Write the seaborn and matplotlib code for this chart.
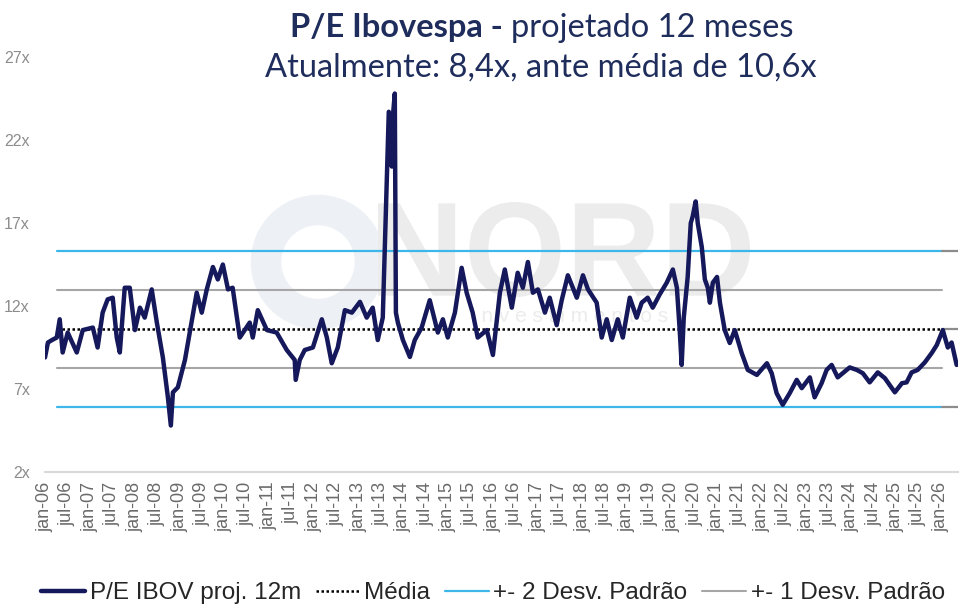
import numpy as np
import pandas as pd
import matplotlib
matplotlib.use("Agg")
import matplotlib.pyplot as plt
from matplotlib.patches import Circle, PathPatch
from matplotlib.textpath import TextPath
from matplotlib.font_manager import FontProperties
from matplotlib.transforms import Affine2D
import seaborn as sns

# ---------------- data ----------------
dates = [
    "2006-01-01", "2006-01-25", "2006-02-27", "2006-04-07", "2006-05-01", "2006-05-25",
    "2006-07-05", "2006-09-17", "2006-11-05", "2007-01-26", "2007-03-06", "2007-04-16",
    "2007-05-27", "2007-07-07", "2007-08-09", "2007-09-03", "2007-10-13", "2007-11-23",
    "2008-01-04", "2008-02-14", "2008-03-24", "2008-05-20", "2008-07-01", "2008-08-19",
    "2008-09-29", "2008-10-23", "2008-11-09", "2008-12-19", "2009-02-15", "2009-03-26",
    "2009-05-22", "2009-07-02", "2009-08-12", "2009-10-01", "2009-11-10", "2009-12-21",
    "2010-02-01", "2010-03-11", "2010-05-08", "2010-07-28", "2010-08-22", "2010-10-02",
    "2010-12-15", "2011-03-05", "2011-05-26", "2011-07-30", "2011-08-07", "2011-09-09",
    "2011-10-20", "2011-12-25", "2012-03-07", "2012-04-17", "2012-05-27", "2012-07-15",
    "2012-09-11", "2012-11-07", "2013-01-12", "2013-03-08", "2013-04-26", "2013-06-06",
    "2013-07-17", "2013-08-19", "2013-09-04", "2013-09-29", "2013-10-07", "2013-10-23",
    "2013-11-01", "2013-11-17", "2013-12-28", "2014-02-23", "2014-04-04", "2014-05-30",
    "2014-08-04", "2014-10-09", "2014-11-19", "2014-12-29", "2015-02-25", "2015-04-21",
    "2015-06-01", "2015-07-20", "2015-08-30", "2015-11-12", "2016-01-01", "2016-02-27",
    "2016-04-07", "2016-06-03", "2016-07-21", "2016-09-01", "2016-10-12", "2016-11-22",
    "2017-01-02", "2017-02-28", "2017-04-08", "2017-06-04", "2017-07-15", "2017-09-03",
    "2017-11-15", "2018-01-04", "2018-02-14", "2018-04-26", "2018-06-06", "2018-07-17",
    "2018-08-27", "2018-10-15", "2018-11-25", "2019-01-21", "2019-03-18", "2019-04-28",
    "2019-06-16", "2019-07-27", "2019-09-22", "2019-11-18", "2020-01-07", "2020-02-09",
    "2020-03-03", "2020-03-19", "2020-04-05", "2020-05-07", "2020-06-01", "2020-06-17",
    "2020-07-11", "2020-07-28", "2020-08-30", "2020-09-24", "2020-10-18", "2020-11-04",
    "2020-11-28", "2021-01-01", "2021-01-25", "2021-03-05", "2021-04-15", "2021-05-26",
    "2021-07-21", "2021-09-09", "2021-11-22", "2022-02-12", "2022-03-23", "2022-05-02",
    "2022-06-21", "2022-08-17", "2022-10-13", "2022-11-23", "2023-01-28", "2023-03-08",
    "2023-05-04", "2023-06-14", "2023-07-25", "2023-09-12", "2023-10-23", "2023-12-19",
    "2024-02-15", "2024-04-04", "2024-05-30", "2024-08-04", "2024-10-01", "2024-12-21",
    "2025-02-17", "2025-03-27", "2025-05-07", "2025-06-25", "2025-08-22", "2025-10-18",
    "2025-11-28", "2026-01-16", "2026-02-26", "2026-03-29", "2026-05-09",
]
pe_values = [
    8.9, 9.8, 9.95, 10.1, 11.2, 9.2,
    10.4, 9.2, 10.55, 10.7, 9.5, 11.6,
    12.4, 12.5, 10.1, 9.2, 13.1, 13.1,
    10.55, 11.9, 11.3, 13.0, 11.0, 8.9,
    6.5, 4.8, 6.8, 7.1, 8.75, 10.4,
    12.8, 11.6, 13.0, 14.35, 13.6, 14.5,
    13.0, 13.1, 10.1, 11.0, 10.1, 11.75,
    10.55, 10.4, 9.35, 8.75, 7.55, 8.75,
    9.35, 9.5, 11.2, 10.1, 8.55, 9.5,
    11.75, 11.6, 12.25, 11.3, 11.9, 9.95,
    11.3, 19.8, 23.7, 20.4, 23.4, 24.8,
    11.6, 11.0, 9.95, 8.93, 9.95, 10.7,
    12.35, 10.4, 11.2, 10.1, 11.6, 14.3,
    12.8, 11.6, 10.1, 10.55, 9.05, 12.8,
    14.2, 11.9, 14.0, 13.1, 14.65, 12.8,
    13.0, 11.6, 12.5, 10.85, 12.35, 13.85,
    12.5, 13.85, 13.0, 12.2, 10.1, 11.2,
    9.95, 11.2, 10.1, 12.5, 11.3, 12.2,
    12.5, 11.9, 12.7, 13.4, 14.2, 13.1,
    10.55, 8.45, 11.3, 13.75, 17.0, 17.4,
    18.3, 17.0, 15.55, 13.6, 13.1, 12.2,
    13.4, 13.75, 12.2, 10.55, 9.77, 10.55,
    9.17, 8.15, 7.85, 8.55, 7.95, 6.75,
    6.05, 6.75, 7.55, 7.05, 7.7, 6.5,
    7.35, 8.15, 8.45, 7.7, 7.95, 8.3,
    8.15, 7.95, 7.4, 8.0, 7.65, 6.8,
    7.35, 7.4, 8.0, 8.15, 8.6, 9.17,
    9.65, 10.55, 9.5, 9.8, 8.45,
]

mean_value = 10.6
std_value = 2.35
band_start = "2006-04-07"
band_end = "2026-01-10"
axis_end = "2026-05-20"

tick_months = ["jan", "jul"]
tick_years = list(range(2006, 2027))

series_label = "P/E IBOV proj. 12m"
mean_label = "Média"
sd2_label = "+- 2 Desv. Padrão"
sd1_label = "+- 1 Desv. Padrão"

title_bold = "P/E Ibovespa - "
title_rest = "projetado 12 meses"
subtitle = "Atualmente: 8,4x, ante média de 10,6x"

# ---------------- style ----------------
sns.set_theme(style="white")
plt.rcParams["font.family"] = ["Liberation Sans", "DejaVu Sans"]

NAVY = "#15185a"
BLUE = "#3db7ea"
GREY = "#a6a6a6"
TITLE_C = "#1f2d5c"

df = pd.DataFrame({"date": pd.to_datetime(dates), "pe": pe_values})

fig = plt.figure(figsize=(9.65, 6.07), dpi=100)
ax = fig.add_axes([45 / 965, 1 - 472 / 607, (958 - 45) / 965, (472 - 57) / 607])

# watermark logo (drawn as graphic)
wm_ax = fig.add_axes([0, 0, 1, 1], zorder=-1)
wm_ax.set_axis_off()
wm_ax.set_xlim(0, 965)
wm_ax.set_ylim(607, 0)
wm_ax.add_patch(Circle((318, 262), 52, fill=False, lw=22, ec="#edf1f5"))
tp = TextPath((0, 0), "NORD", size=100, prop=FontProperties(family="Liberation Sans", weight="bold"))
tb = tp.get_extents()
sx = (750 - 378) / tb.width
sy = (297 - 202) / tb.height
trans = Affine2D().translate(-tb.x0, -tb.y0).scale(sx, -sy).translate(378, 297)
wm_ax.add_patch(PathPatch(trans.transform_path(tp), fc="#ececec", ec="none"))
wm_ax.text(570, 317, "i n v e s t i m e n t o s", fontsize=15, color="#ececec",
           ha="center", va="center")
ax.set_facecolor("none")
fig.patch.set_facecolor("white")

bx = pd.to_datetime([band_start, band_end])
ex = pd.to_datetime([band_end, axis_end])
for k, col, lbl in [(2, BLUE, sd2_label), (1, GREY, sd1_label)]:
    for sgn in (1, -1):
        lvl = mean_value + sgn * k * std_value
        ax.plot(bx, [lvl, lvl], color=col, lw=1.6 if k == 2 else 1.5,
                label=lbl if sgn == 1 else None, zorder=2)
        if k == 2:
            ax.plot(ex, [lvl, lvl], color="#8c8c8c", lw=1.6, zorder=2)
ax.plot(bx, [mean_value, mean_value], color="black", lw=1.8, ls=(0, (1, 1)),
        label=mean_label, zorder=3)
ax.plot(ex, [mean_value, mean_value], color="#8c8c8c", lw=1.6, zorder=2)

sns.lineplot(data=df, x="date", y="pe", ax=ax, color=NAVY, lw=3.2,
             label=series_label, zorder=4, legend=False)

ax.set_xlim(pd.Timestamp("2006-01-01"), pd.Timestamp(axis_end))
ax.set_ylim(2, 27)
ax.set_yticks([2, 7, 12, 17, 22, 27])
ax.set_yticklabels([f"{v}x" for v in [2, 7, 12, 17, 22, 27]])

ticks = []
tlabels = []
for y in tick_years:
    for mi, mn in enumerate(tick_months):
        d = pd.Timestamp(year=y, month=1 + 6 * mi, day=1)
        if d <= pd.Timestamp("2026-01-01"):
            ticks.append(d)
            tlabels.append(f"{mn}-{y % 100:02d}")
ax.set_xticks(ticks)
ax.set_xticklabels(tlabels, rotation=90)

for s in ["top", "right", "left"]:
    ax.spines[s].set_visible(False)
ax.spines["bottom"].set_color("#d9d9d9")
ax.spines["bottom"].set_linewidth(1.5)
ax.tick_params(axis="x", direction="inout", length=8, width=1.2, color="#d9d9d9",
               labelsize=13, labelcolor="#6a6a6a", pad=3)
ax.tick_params(axis="y", length=0, labelsize=11.5, labelcolor="#8c8c8c", pad=11)
ax.set_xlabel("")
ax.set_ylabel("")
ax.grid(False)

# title
TS = 23.5
t1 = fig.text(541 / 965, 1 - 28 / 607, title_bold + title_rest, alpha=0,
              fontsize=TS, family="Lato", ha="center", va="center")
fig.canvas.draw()
r = fig.canvas.get_renderer()
bb = t1.get_window_extent(r)
t1.remove()
tbx = fig.text(bb.x0 / fig.bbox.width, 1 - 28 / 607, title_bold, fontsize=TS,
               family="Lato", fontweight="bold", color=TITLE_C, ha="left", va="center")
bbb = tbx.get_window_extent(r)
fig.text(bbb.x1 / fig.bbox.width, 1 - 28 / 607, title_rest, fontsize=TS,
         family="Lato", color=TITLE_C, ha="left", va="center")
fig.text(541 / 965, 1 - 68 / 607, subtitle, fontsize=TS, family="Lato",
         color=TITLE_C, ha="center", va="center")

# legend
h, l = ax.get_legend_handles_labels()
order = [series_label, mean_label, sd2_label, sd1_label]
hd = dict(zip(l, h))
fig.legend([hd[o] for o in order], order, loc="center", ncol=4,
           bbox_to_anchor=(493 / 965, 1 - 593 / 607), frameon=False,
           fontsize=17.5, handlelength=1.8, handletextpad=0.2, columnspacing=0.6,
           labelcolor="#262626", borderpad=0.1)

fig.savefig("out.png", dpi=100)
